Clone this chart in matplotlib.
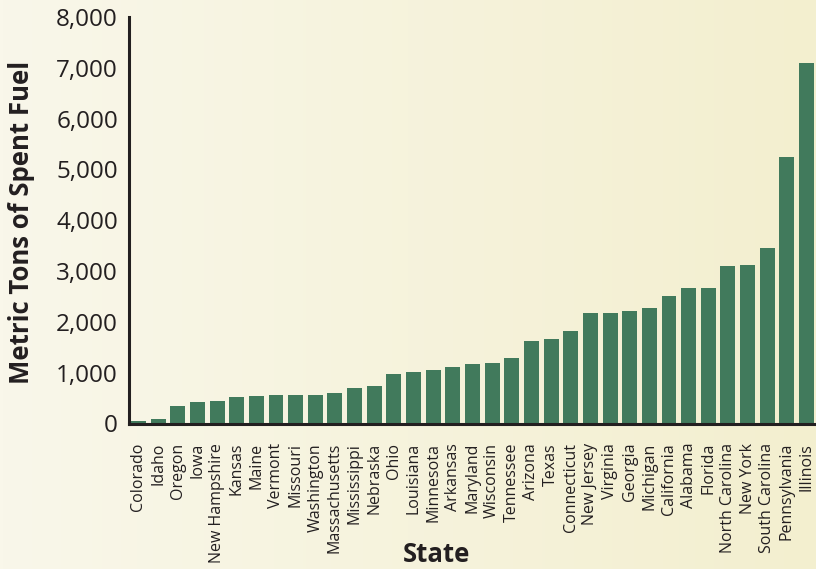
import numpy as np
import matplotlib
matplotlib.use("Agg")
import matplotlib.pyplot as plt
from matplotlib.colors import LinearSegmentedColormap
from matplotlib.ticker import FuncFormatter

states = ["Colorado", "Idaho", "Oregon", "Iowa", "New Hampshire", "Kansas",
          "Maine", "Vermont", "Missouri", "Washington", "Massachusetts",
          "Mississippi", "Nebraska", "Ohio", "Louisiana", "Minnesota",
          "Arkansas", "Maryland", "Wisconsin", "Tennessee", "Arizona", "Texas",
          "Connecticut", "New Jersey", "Virginia", "Georgia", "Michigan",
          "California", "Alabama", "Florida", "North Carolina", "New York",
          "South Carolina", "Pennsylvania", "Illinois"]
spent_fuel = [40, 90, 350, 430, 450, 525, 545, 565, 565, 565, 605, 705, 740,
              980, 1020, 1055, 1115, 1175, 1195, 1290, 1625, 1665, 1825,
              2175, 2175, 2215, 2275, 2510, 2665, 2665, 3095, 3115, 3450,
              5240, 7100]
y_ticks = [0, 1000, 2000, 3000, 4000, 5000, 6000, 7000, 8000]

bar_color = "#417a5c"
ink = "#231f20"
plt.rcParams["font.family"] = ["Open Sans", "DejaVu Sans"]

fig = plt.figure(figsize=(8.16, 5.69), dpi=100)

# cream background, lighter on the left
bg = fig.add_axes([0, 0, 1, 1], zorder=-10)
cmap = LinearSegmentedColormap.from_list("bg", ["#f9f7ea", "#f3efcf"])
bg.imshow(np.linspace(0, 1, 256).reshape(1, -1), cmap=cmap, aspect="auto",
          extent=[0, 1, 0, 1])
bg.set_axis_off()

ax = fig.add_axes([129 / 816, 1 - 423.5 / 569, 687 / 816, 406.5 / 569])
ax.patch.set_alpha(0)

x = np.arange(len(states))
ax.bar(x, spent_fuel, width=0.76, color=bar_color, zorder=2)

ax.set_xlim(-0.48, len(states) - 1 + 0.48)
ax.set_ylim(0, 8000)
ax.set_yticks(y_ticks)
ax.yaxis.set_major_formatter(FuncFormatter(lambda v, p: f"{int(v):,}"))
ax.set_xticks(x)
ax.set_xticklabels(states, rotation=90, fontsize=11.5, color=ink)
ax.tick_params(axis="x", length=0, pad=14)
ax.tick_params(axis="y", length=0, pad=8, labelsize=17.5, labelcolor=ink)
for lbl in ax.get_yticklabels():
    lbl.set_va("center_baseline")

for side in ["top", "right"]:
    ax.spines[side].set_visible(False)
for side in ["left", "bottom"]:
    ax.spines[side].set_color(ink)
    ax.spines[side].set_linewidth(2.2)
    ax.spines[side].set_zorder(3)

fig.text(22 / 816, 1 - 222 / 569, "Metric Tons of Spent Fuel", rotation=90,
         ha="center", va="center", fontsize=18.5, fontweight="bold", color=ink)
fig.text(437 / 816, 1 - 555 / 569, "State", ha="center", va="center",
         fontsize=18.5, fontweight="bold", color=ink)

fig.savefig("out.png", dpi=100)
